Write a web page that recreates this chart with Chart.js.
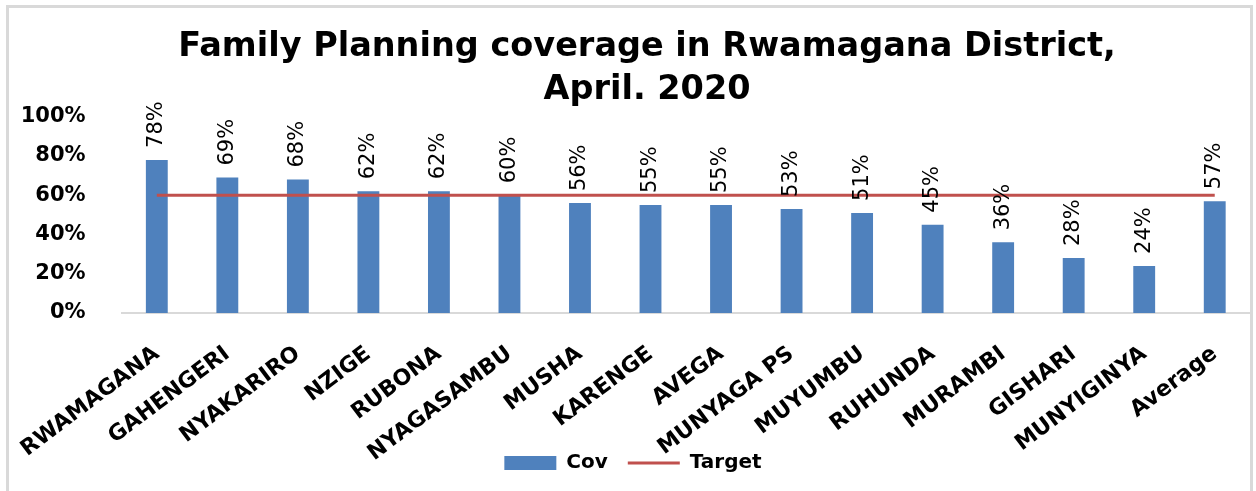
<!DOCTYPE html>
<html>
<head>
<meta charset="utf-8">
<script src="https://cdn.jsdelivr.net/npm/chart.js@4.4.1/dist/chart.umd.min.js"></script>
<style>
  html, body { margin: 0; padding: 0; background: #ffffff; }
  #wrap { width: 1256px; height: 491px; position: relative; }
</style>
</head>
<body>
<div id="wrap"><canvas id="c" width="1256" height="491"></canvas></div>
<script>
const categories = ["RWAMAGANA", "GAHENGERI", "NYAKARIRO", "NZIGE", "RUBONA", "NYAGASAMBU", "MUSHA", "KARENGE", "AVEGA", "MUNYAGA PS", "MUYUMBU", "RUHUNDA", "MURAMBI", "GISHARI", "MUNYIGINYA", "Average"];
const coverage = [0.78, 0.69, 0.68, 0.62, 0.62, 0.60, 0.56, 0.55, 0.55, 0.53, 0.51, 0.45, 0.36, 0.28, 0.24, 0.57];
const target = [0.60, 0.60, 0.60, 0.60, 0.60, 0.60, 0.60, 0.60, 0.60, 0.60, 0.60, 0.60, 0.60, 0.60, 0.60, 0.60];
const titleLines = ["Family Planning coverage in Rwamagana District,", "April. 2020"];
const yTicks = [0, 0.2, 0.4, 0.6, 0.8, 1.0];

const frame = {
  id: 'frame',
  afterLayout(chart) {
    if (chart.titleBlock) {
      chart.titleBlock.left += 14;
      chart.titleBlock.right += 14;
    }
  },
  beforeDraw(chart) {
    const ctx = chart.ctx;
    ctx.save();
    ctx.fillStyle = '#ffffff';
    ctx.fillRect(0, 0, chart.width, chart.height);
    ctx.strokeStyle = '#d9d9d9';
    ctx.lineWidth = 3;
    ctx.beginPath();
    ctx.moveTo(7.5, chart.height);
    ctx.lineTo(7.5, 6.5);
    ctx.lineTo(1251.5, 6.5);
    ctx.lineTo(1251.5, chart.height);
    ctx.stroke();
    ctx.restore();
  }
};

const barLabels = {
  id: 'barLabels',
  afterDatasetsDraw(chart) {
    const ctx = chart.ctx;
    const meta = chart.getDatasetMeta(0);
    ctx.save();
    ctx.fillStyle = '#000000';
    ctx.font = '21px "DejaVu Sans"';
    ctx.textAlign = 'left';
    ctx.textBaseline = 'middle';
    meta.data.forEach((bar, i) => {
      const v = chart.data.datasets[0].data[i];
      ctx.save();
      ctx.translate(bar.x, bar.y - 12);
      ctx.rotate(-Math.PI / 2);
      ctx.fillText(Math.round(v * 100) + '%', 0, 0);
      ctx.restore();
    });
    ctx.restore();
  }
};

new Chart(document.getElementById('c'), {
  data: {
    labels: categories,
    datasets: [
      {
        type: 'bar',
        label: 'Cov',
        data: coverage,
        backgroundColor: '#4f81bd',
        borderWidth: 0,
        barPercentage: 0.31,
        categoryPercentage: 1.0,
        pointStyle: 'rect',
        order: 1
      },
      {
        type: 'line',
        label: 'Target',
        data: target,
        borderColor: '#c0504d',
        backgroundColor: '#c0504d',
        borderWidth: 3,
        pointRadius: 0,
        pointStyle: 'line',
        fill: false,
        order: 0
      }
    ]
  },
  options: {
    responsive: false,
    animation: false,
    layout: { padding: { left: 16, right: 6, top: 0, bottom: 8 } },
    plugins: {
      title: {
        display: true,
        text: titleLines,
        color: '#000000',
        font: { family: '"DejaVu Sans"', size: 33.5, weight: 'bold', lineHeight: 1.28 },
        padding: { top: 26, bottom: 5 }
      },
      legend: {
        position: 'bottom',
        labels: {
          usePointStyle: true,
          pointStyleWidth: 52,
          boxHeight: 14,
          color: '#000000',
          font: { family: '"DejaVu Sans"', size: 20, weight: 'bold' },
          padding: 20,
          sort: (a, b) => a.datasetIndex - b.datasetIndex
        }
      },
      tooltip: { enabled: false }
    },
    scales: {
      x: {
        offset: true,
        grid: { display: false },
        border: { display: true, color: '#d9d9d9', width: 2 },
        afterFit(scale) {
          scale.height = 120;
          scale._computeLabelArea = () => undefined;
        },
        ticks: {
          color: '#000000',
          font: { family: '"DejaVu Sans"', size: 22, weight: 'bold' },
          maxRotation: 37,
          minRotation: 37,
          autoSkip: false,
          padding: 20
        }
      },
      y: {
        min: 0,
        max: 1,
        grid: { display: false },
        border: { display: false },
        afterBuildTicks(scale) { scale.ticks = yTicks.map(v => ({ value: v })); },
        afterFit(scale) { scale.width = 102; },
        ticks: {
          color: '#000000',
          font: { family: '"DejaVu Sans"', size: 21, weight: 'bold' },
          padding: 28,
          callback: v => Math.round(v * 100) + '%'
        }
      }
    }
  },
  plugins: [frame, barLabels]
});
</script>
</body>
</html>
